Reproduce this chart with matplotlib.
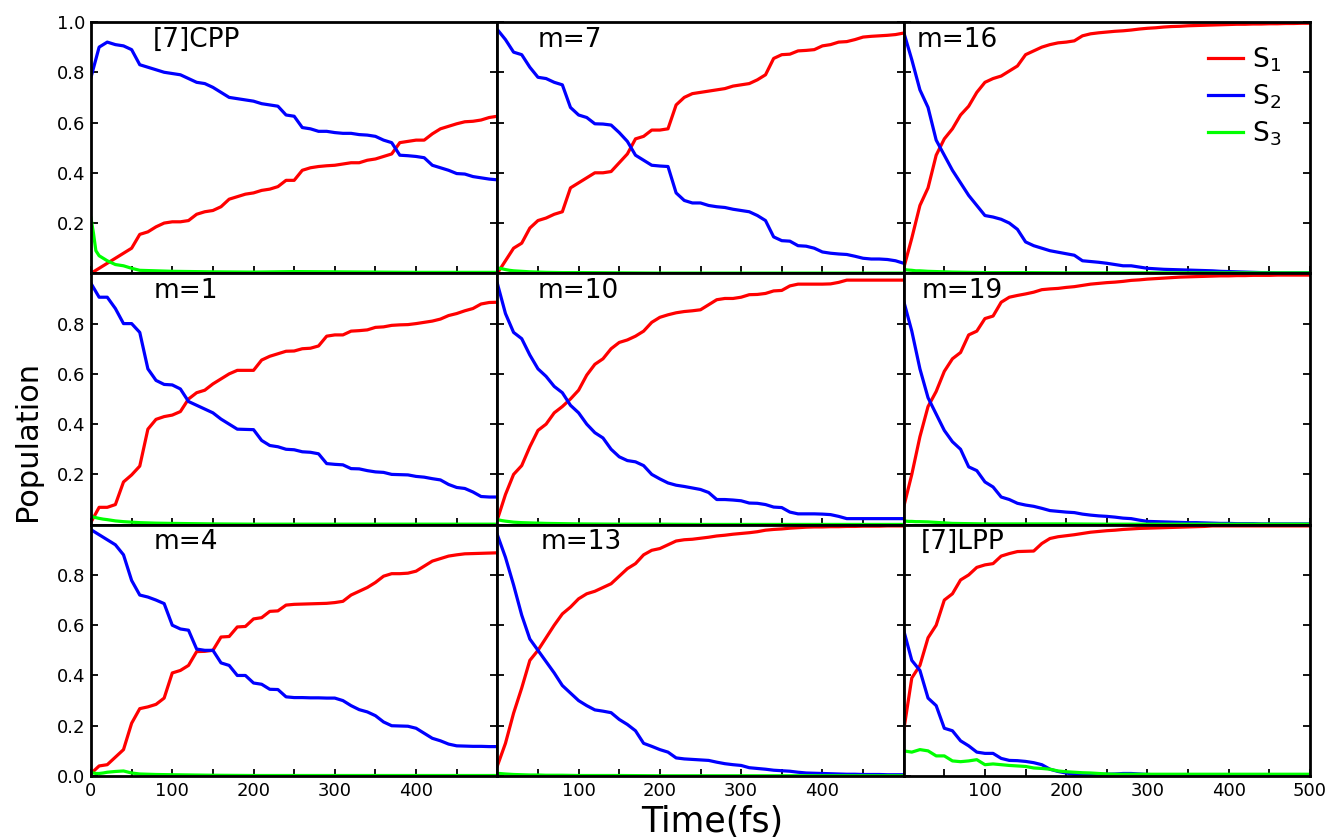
import numpy as np
import matplotlib
matplotlib.use("Agg")
import matplotlib.pyplot as plt

# sampling grid (fs)
time = list(range(0, 501, 10))
time_s3 = [0, 3, 6, 10, 15, 20, 30, 40, 50, 60, 80, 100, 150, 200, 250, 300, 350, 400, 450, 500]

# [7]CPP
cpp_s1 = [0.0, 0.02, 0.04, 0.06, 0.08, 0.10, 0.155, 0.165, 0.185, 0.20, 0.205, 0.205, 0.21, 0.235, 0.245, 0.25,
          0.265, 0.295, 0.305, 0.315, 0.32, 0.33, 0.335, 0.345, 0.37, 0.37, 0.41, 0.42, 0.425, 0.428, 0.43,
          0.435, 0.44, 0.44, 0.45, 0.455, 0.465, 0.475, 0.52, 0.525, 0.53, 0.53, 0.555, 0.575, 0.585, 0.595,
          0.603, 0.605, 0.61, 0.62, 0.625]
cpp_s2 = [0.78, 0.90, 0.92, 0.91, 0.905, 0.89, 0.83, 0.82, 0.81, 0.80, 0.795, 0.79, 0.775, 0.76, 0.755, 0.74,
          0.72, 0.70, 0.695, 0.69, 0.685, 0.675, 0.67, 0.665, 0.63, 0.625, 0.58, 0.575, 0.565, 0.565, 0.56,
          0.557, 0.557, 0.552, 0.55, 0.545, 0.53, 0.52, 0.47, 0.468, 0.465, 0.46, 0.43, 0.42, 0.41, 0.397,
          0.395, 0.385, 0.38, 0.375, 0.372]
cpp_s3 = [0.22, 0.16, 0.09, 0.07, 0.06, 0.05, 0.035, 0.03, 0.02, 0.012, 0.01, 0.008, 0.006, 0.005, 0.007,
          0.006, 0.005, 0.004, 0.004, 0.004]

# m=7
m7_s1 = [0.0, 0.05, 0.10, 0.12, 0.18, 0.21, 0.22, 0.235, 0.245, 0.34, 0.36, 0.38, 0.40, 0.40, 0.405, 0.44,
         0.475, 0.535, 0.545, 0.57, 0.57, 0.575, 0.67, 0.70, 0.715, 0.72, 0.725, 0.73, 0.735, 0.745, 0.75,
         0.755, 0.77, 0.79, 0.855, 0.87, 0.872, 0.885, 0.887, 0.89, 0.905, 0.91, 0.92, 0.922, 0.93, 0.94,
         0.943, 0.945, 0.947, 0.95, 0.956]
m7_s2 = [0.97, 0.93, 0.88, 0.87, 0.82, 0.78, 0.775, 0.76, 0.75, 0.66, 0.63, 0.62, 0.595, 0.594, 0.59, 0.56,
         0.525, 0.47, 0.45, 0.43, 0.427, 0.425, 0.32, 0.29, 0.28, 0.28, 0.27, 0.265, 0.262, 0.255, 0.25,
         0.245, 0.23, 0.21, 0.145, 0.13, 0.128, 0.11, 0.108, 0.10, 0.085, 0.08, 0.077, 0.075, 0.068, 0.06,
         0.057, 0.057, 0.055, 0.05, 0.04]
m7_s3 = [0.02, 0.02, 0.018, 0.015, 0.012, 0.01, 0.008, 0.006, 0.005, 0.004, 0.003, 0.003, 0.002, 0.001,
         0.001, 0.001, 0.001, 0.001, 0.001, 0.001]

# m=16
m16_s1 = [0.02, 0.14, 0.27, 0.34, 0.47, 0.535, 0.575, 0.63, 0.665, 0.72, 0.76, 0.775, 0.785, 0.805, 0.825,
          0.87, 0.885, 0.90, 0.91, 0.917, 0.92, 0.925, 0.945, 0.953, 0.957, 0.96, 0.963, 0.965, 0.968, 0.972,
          0.975, 0.977, 0.98, 0.982, 0.983, 0.985, 0.986, 0.987, 0.988, 0.989, 0.99, 0.991, 0.991, 0.992,
          0.992, 0.993, 0.993, 0.994, 0.994, 0.995, 0.995]
m16_s2 = [0.96, 0.85, 0.73, 0.66, 0.53, 0.47, 0.41, 0.36, 0.31, 0.27, 0.23, 0.224, 0.215, 0.20, 0.175, 0.125,
          0.11, 0.10, 0.09, 0.084, 0.078, 0.072, 0.05, 0.047, 0.044, 0.04, 0.035, 0.03, 0.03, 0.025, 0.02,
          0.018, 0.016, 0.015, 0.014, 0.013, 0.012, 0.011, 0.01, 0.008, 0.007, 0.006, 0.005, 0.004, 0.003,
          0.003, 0.002, 0.002, 0.002, 0.002, 0.002]
m16_s3 = [0.015, 0.014, 0.013, 0.012, 0.01, 0.01, 0.008, 0.007, 0.006, 0.005, 0.004, 0.003, 0.003, 0.002,
          0.002, 0.002, 0.002, 0.002, 0.002, 0.002]

# m=1
m1_s1 = [0.01, 0.069, 0.069, 0.08, 0.17, 0.198, 0.233, 0.38, 0.419, 0.43, 0.436, 0.45, 0.50, 0.525, 0.535,
         0.56, 0.58, 0.60, 0.614, 0.614, 0.614, 0.655, 0.67, 0.68, 0.69, 0.691, 0.70, 0.702, 0.711, 0.75,
         0.755, 0.755, 0.77, 0.772, 0.775, 0.785, 0.787, 0.793, 0.795, 0.796, 0.80, 0.805, 0.81, 0.818,
         0.832, 0.84, 0.851, 0.86, 0.878, 0.884, 0.885]
m1_s2 = [0.96, 0.905, 0.905, 0.86, 0.80, 0.80, 0.765, 0.62, 0.574, 0.558, 0.556, 0.54, 0.49, 0.475, 0.46,
         0.445, 0.42, 0.40, 0.38, 0.379, 0.378, 0.335, 0.315, 0.31, 0.30, 0.298, 0.29, 0.288, 0.282, 0.243,
         0.24, 0.238, 0.223, 0.222, 0.215, 0.21, 0.208, 0.20, 0.199, 0.198, 0.192, 0.189, 0.183, 0.178,
         0.16, 0.148, 0.144, 0.13, 0.112, 0.11, 0.11]
m1_s3 = [0.035, 0.03, 0.028, 0.025, 0.022, 0.02, 0.015, 0.012, 0.01, 0.008, 0.006, 0.005, 0.003, 0.002,
         0.002, 0.002, 0.002, 0.002, 0.002, 0.002]

# m=10
m10_s1 = [0.02, 0.12, 0.20, 0.235, 0.31, 0.375, 0.40, 0.445, 0.47, 0.50, 0.535, 0.595, 0.638, 0.66, 0.70,
          0.725, 0.735, 0.75, 0.77, 0.805, 0.825, 0.835, 0.843, 0.848, 0.851, 0.855, 0.875, 0.895, 0.90,
          0.90, 0.905, 0.915, 0.916, 0.92, 0.93, 0.932, 0.95, 0.957, 0.957, 0.957, 0.957, 0.958, 0.964,
          0.973, 0.973, 0.973, 0.973, 0.973, 0.973, 0.973, 0.973]
m10_s2 = [0.96, 0.84, 0.765, 0.74, 0.675, 0.62, 0.59, 0.55, 0.525, 0.475, 0.445, 0.40, 0.366, 0.345, 0.30,
          0.27, 0.255, 0.25, 0.235, 0.20, 0.182, 0.166, 0.157, 0.152, 0.146, 0.14, 0.128, 0.10, 0.10, 0.098,
          0.095, 0.086, 0.085, 0.08, 0.07, 0.068, 0.05, 0.043, 0.043, 0.043, 0.042, 0.04, 0.033, 0.024,
          0.024, 0.024, 0.024, 0.024, 0.024, 0.024, 0.024]
m10_s3 = [0.02, 0.018, 0.016, 0.014, 0.012, 0.01, 0.008, 0.007, 0.006, 0.005, 0.004, 0.003, 0.002, 0.002,
          0.001, 0.001, 0.001, 0.001, 0.001, 0.001]

# m=19
m19_s1 = [0.07, 0.20, 0.35, 0.47, 0.53, 0.61, 0.66, 0.685, 0.755, 0.77, 0.82, 0.83, 0.885, 0.905, 0.912,
          0.918, 0.925, 0.935, 0.938, 0.94, 0.944, 0.947, 0.952, 0.957, 0.96, 0.963, 0.965, 0.968, 0.972,
          0.974, 0.977, 0.979, 0.981, 0.983, 0.985, 0.986, 0.987, 0.988, 0.989, 0.99, 0.99, 0.991, 0.991,
          0.992, 0.992, 0.992, 0.993, 0.993, 0.993, 0.993, 0.993]
m19_s2 = [0.89, 0.77, 0.62, 0.505, 0.44, 0.375, 0.33, 0.30, 0.23, 0.215, 0.17, 0.15, 0.11, 0.10, 0.085,
          0.078, 0.073, 0.065, 0.056, 0.053, 0.05, 0.048, 0.042, 0.038, 0.035, 0.033, 0.03, 0.026, 0.024,
          0.018, 0.013, 0.012, 0.011, 0.01, 0.009, 0.008, 0.008, 0.007, 0.006, 0.005, 0.005, 0.004, 0.004,
          0.004, 0.003, 0.003, 0.003, 0.003, 0.003, 0.003, 0.003]
m19_s3 = [0.015, 0.014, 0.013, 0.013, 0.012, 0.012, 0.011, 0.009, 0.007, 0.005, 0.004, 0.003, 0.003, 0.003,
          0.002, 0.002, 0.002, 0.002, 0.002, 0.002]

# m=4
m4_s1 = [0.01, 0.04, 0.045, 0.075, 0.105, 0.21, 0.268, 0.275, 0.285, 0.31, 0.41, 0.42, 0.44, 0.495, 0.496,
         0.50, 0.553, 0.555, 0.593, 0.595, 0.625, 0.63, 0.655, 0.657, 0.68, 0.683, 0.684, 0.685, 0.686,
         0.687, 0.69, 0.695, 0.72, 0.735, 0.75, 0.77, 0.795, 0.805, 0.805, 0.807, 0.815, 0.835, 0.855,
         0.865, 0.875, 0.88, 0.884, 0.885, 0.886, 0.887, 0.888]
m4_s2 = [0.98, 0.96, 0.94, 0.92, 0.88, 0.778, 0.72, 0.712, 0.70, 0.686, 0.60, 0.585, 0.58, 0.505, 0.50,
         0.50, 0.45, 0.44, 0.40, 0.40, 0.37, 0.365, 0.345, 0.344, 0.315, 0.312, 0.312, 0.311, 0.311, 0.31,
         0.31, 0.30, 0.28, 0.264, 0.255, 0.24, 0.215, 0.20, 0.199, 0.198, 0.19, 0.17, 0.15, 0.14, 0.127,
         0.12, 0.119, 0.118, 0.118, 0.117, 0.117]
m4_s3 = [0.015, 0.012, 0.01, 0.01, 0.012, 0.015, 0.018, 0.02, 0.012, 0.008, 0.006, 0.005, 0.003, 0.002,
         0.002, 0.002, 0.002, 0.002, 0.002, 0.002]

# m=13
m13_s1 = [0.04, 0.13, 0.25, 0.35, 0.46, 0.50, 0.55, 0.60, 0.645, 0.672, 0.705, 0.725, 0.735, 0.75, 0.765,
          0.795, 0.825, 0.845, 0.88, 0.898, 0.905, 0.92, 0.935, 0.94, 0.942, 0.946, 0.95, 0.955, 0.958,
          0.962, 0.965, 0.968, 0.972, 0.978, 0.981, 0.983, 0.986, 0.988, 0.99, 0.991, 0.991, 0.992, 0.992,
          0.993, 0.993, 0.994, 0.994, 0.994, 0.995, 0.995, 0.995]
m13_s2 = [0.96, 0.87, 0.76, 0.64, 0.545, 0.50, 0.455, 0.41, 0.36, 0.33, 0.30, 0.28, 0.263, 0.258, 0.252,
          0.225, 0.205, 0.18, 0.13, 0.118, 0.105, 0.095, 0.072, 0.068, 0.066, 0.064, 0.062, 0.055, 0.049,
          0.045, 0.042, 0.033, 0.03, 0.027, 0.023, 0.021, 0.019, 0.015, 0.012, 0.011, 0.01, 0.009, 0.008,
          0.007, 0.007, 0.006, 0.006, 0.006, 0.005, 0.005, 0.005]
m13_s3 = [0.01, 0.01, 0.009, 0.008, 0.007, 0.006, 0.005, 0.004, 0.004, 0.003, 0.003, 0.002, 0.002, 0.001,
          0.001, 0.001, 0.001, 0.001, 0.001, 0.001]

# [7]LPP
lpp_s1 = [0.18, 0.39, 0.44, 0.55, 0.60, 0.70, 0.725, 0.78, 0.80, 0.83, 0.84, 0.845, 0.875, 0.885, 0.893,
          0.894, 0.895, 0.925, 0.945, 0.952, 0.956, 0.96, 0.965, 0.97, 0.973, 0.976, 0.978, 0.981, 0.983,
          0.985, 0.986, 0.987, 0.988, 0.989, 0.99, 0.991, 0.992, 0.993, 0.995, 0.995, 0.995, 0.995, 0.995,
          0.995, 0.995, 0.995, 0.995, 0.995, 0.995, 0.995, 0.995]
lpp_s2 = [0.58, 0.46, 0.42, 0.31, 0.28, 0.19, 0.18, 0.14, 0.12, 0.095, 0.09, 0.09, 0.07, 0.062, 0.061,
          0.058, 0.053, 0.045, 0.027, 0.018, 0.012, 0.006, 0.004, 0.004, 0.006, 0.007, 0.008, 0.01, 0.01,
          0.008, 0.006, 0.005, 0.005, 0.005, 0.005, 0.005, 0.005, 0.005, 0.005, 0.005, 0.005, 0.005, 0.005,
          0.005, 0.005, 0.005, 0.005, 0.005, 0.005, 0.005, 0.005]
lpp_s3 = [0.10, 0.095, 0.105, 0.10, 0.08, 0.08, 0.06, 0.057, 0.06, 0.065, 0.045, 0.048, 0.045, 0.042, 0.04,
          0.038, 0.032, 0.03, 0.027, 0.02, 0.017, 0.015, 0.013, 0.012, 0.01, 0.008, 0.007, 0.007, 0.007,
          0.007, 0.007, 0.007, 0.007, 0.007, 0.007, 0.007, 0.007, 0.007, 0.007, 0.007, 0.007, 0.007, 0.007,
          0.007, 0.007, 0.007, 0.007, 0.007, 0.007, 0.007, 0.007]

# column-major order as in the figure
panels = [
    ("[7]CPP", cpp_s1, cpp_s2, cpp_s3, time_s3, 0.153),
    ("m=1", m1_s1, m1_s2, m1_s3, time_s3, 0.155),
    ("m=4", m4_s1, m4_s2, m4_s3, time_s3, 0.153),
    ("m=7", m7_s1, m7_s2, m7_s3, time_s3, 0.100),
    ("m=10", m10_s1, m10_s2, m10_s3, time_s3, 0.100),
    ("m=13", m13_s1, m13_s2, m13_s3, time_s3, 0.107),
    ("m=16", m16_s1, m16_s2, m16_s3, time_s3, 0.032),
    ("m=19", m19_s1, m19_s2, m19_s3, time_s3, 0.044),
    ("[7]LPP", lpp_s1, lpp_s2, lpp_s3, time, 0.041),
]

ylabels = {0: ['', '0.2', '0.4', '0.6', '0.8', '1.0'],
           1: ['', '0.2', '0.4', '0.6', '0.8', ''],
           2: ['0.0', '0.2', '0.4', '0.6', '0.8', '']}
xlabels = {0: ['0', '100', '200', '300', '400', ''],
           1: ['', '100', '200', '300', '400', ''],
           2: ['', '100', '200', '300', '400', '500']}

fig = plt.figure(figsize=(13.27, 8.4), dpi=100)
axes = fig.subplots(3, 3, gridspec_kw=dict(wspace=0, hspace=0))
fig.subplots_adjust(left=91/1327, right=1310/1327, top=1-22/840, bottom=1-776/840)

lw = 2.3
for k, (name, s1, s2, s3, tg, xt) in enumerate(panels):
    col, row = divmod(k, 3)
    ax = axes[row, col]
    ax.plot(time, s1, color='#ff0000', lw=lw, label='S$_1$')
    ax.plot(time, s2, color='#0000ff', lw=lw, label='S$_2$')
    ax.plot(tg, s3, color='#00ff00', lw=lw, label='S$_3$')
    ax.set_xlim(0, 500)
    ax.set_ylim(0, 1)
    ax.set_xticks([0, 100, 200, 300, 400, 500])
    ax.set_xticks([50, 150, 250, 350, 450], minor=True)
    ax.set_yticks([0, 0.2, 0.4, 0.6, 0.8, 1.0])
    ax.tick_params(which='both', direction='in', length=5, width=1.3,
                   top=False, right=True, labelsize=13, pad=4)
    for sp in ax.spines.values():
        sp.set_linewidth(2)
    if col == 0:
        ax.set_yticklabels(ylabels[row])
    else:
        ax.set_yticklabels([])
    if row == 2:
        ax.set_xticklabels(xlabels[col])
    else:
        ax.set_xticklabels([])
    ax.text(xt, 0.93, name, transform=ax.transAxes, fontsize=19, va='center', ha='left')
    if k == 6:
        ax.legend(loc='upper right', bbox_to_anchor=(0.955, 0.95), frameon=False, fontsize=19,
                  handlelength=1.3, handletextpad=0.35, labelspacing=0.32, borderaxespad=0)

fig.text(0.021, 0.475, 'Population', rotation=90, fontsize=22, ha='center', va='center')
fig.text(0.537, 0.022, 'Time(fs)', fontsize=25, ha='center', va='center')

fig.savefig('out.png', dpi=100)
